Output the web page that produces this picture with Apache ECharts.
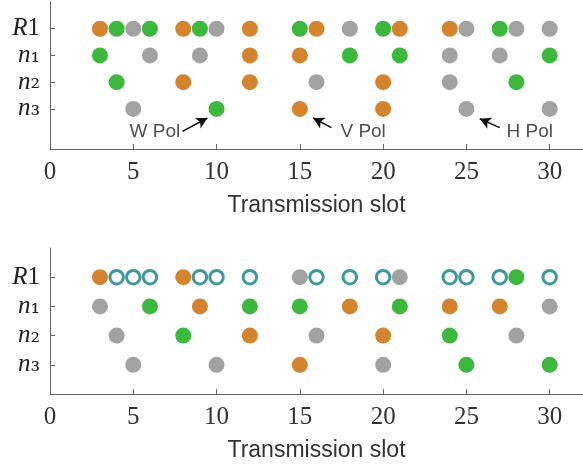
<!DOCTYPE html>
<html>
<head>
<meta charset="utf-8">
<script src="https://cdn.jsdelivr.net/npm/echarts@6/dist/echarts.min.js"></script>
<style>html,body{margin:0;padding:0;background:#fff}#c{width:583px;height:468px}</style>
</head>
<body>
<div id="c"></div>
<script>
// Row values on the y axis: R1 = 4, n1 = 3, n2 = 2, n3 = 1
const rowValues = [4, 3, 2, 1];
const rowNames = ['R1', 'n₁', 'n₂', 'n₃'];
const xTicks = [0, 5, 10, 15, 20, 25, 30];

// Top panel: slots per row (order R1, n1, n2, n3)
const topOrange = [[3, 8, 12, 16, 21, 24], [12, 15], [8, 12, 20], [15, 20]];
const topGreen  = [[4, 6, 9, 15, 20, 27], [3, 18, 21, 30], [4, 28], [10]];
const topGray   = [[5, 10, 18, 25, 28, 30], [6, 9, 24, 27], [16, 24], [5, 25, 30]];

// Bottom panel
const botOrange = [[3, 8], [9, 18, 24, 27], [12, 20], [15]];
const botGreen  = [[28], [6, 12, 15, 21], [8, 24], [25, 30]];
const botGray   = [[15, 21], [3, 30], [4, 16, 28], [5, 10, 20]];
const botHollow = [[4, 5, 6, 9, 10, 12, 16, 18, 20, 24, 25, 27, 30], [], [], []];

// Annotations (top panel, data units)
const annoTexts = ['W Pol', 'V Pol', 'H Pol'];
const annoTextPos = [[6.3, 0.14], [18.8, 0.14], [28.8, 0.14]];
const arrowFrom = [[7.95, 0.16], [16.9, 0.3], [27.0, 0.3]];
const arrowTo = [[9.45, 0.66], [15.8, 0.66], [25.8, 0.63]];

const C_OR = '#D4832F', C_GR = '#3CB83C', C_GY = '#A2A2A2', C_TL = '#0F8080';
const yTickVals = rowValues.slice().sort((a, b) => a - b);

function pts(rows) {
  const out = [];
  rows.forEach((slots, i) => slots.forEach(s => out.push([s, rowValues[i]])));
  return out;
}

function yLabel(v) {
  const idx = rowValues.indexOf(v);
  const n = rowNames[idx];
  if (n === undefined) return '';
  return '{it|' + n.charAt(0) + '}' + (n === 'R1' ? '{rm|1}' : '{sub|' + n.slice(1) + '}');
}

function xAxisCfg(gi) {
  return {
    gridIndex: gi, type: 'value', min: 0, max: 32,
    name: 'Transmission slot', nameLocation: 'middle', nameGap: 45,
    nameTextStyle: {fontFamily: 'Liberation Sans', fontSize: 23, color: '#333', lineHeight: 24, verticalAlign: 'top'},
    axisLine: {show: true, onZero: false, lineStyle: {color: '#666', width: 1}},
    axisTick: {show: true, inside: true, length: 5, customValues: xTicks, lineStyle: {color: '#666'}},
    axisLabel: {customValues: xTicks, margin: 11, fontFamily: 'Liberation Serif', fontSize: 25, color: '#333', lineHeight: 25},
    splitLine: {show: false}
  };
}

function yAxisCfg(gi, min) {
  return {
    gridIndex: gi, type: 'value', min: min, max: 5,
    axisLine: {show: true, onZero: false, lineStyle: {color: '#666', width: 1}},
    axisTick: {show: true, inside: true, length: 5, customValues: yTickVals, lineStyle: {color: '#666'}},
    axisLabel: {
      customValues: yTickVals, margin: 10, formatter: yLabel, color: '#222',
      hideOverlap: false, showMinLabel: true, showMaxLabel: true,
      rich: {
        it: {fontFamily: 'Liberation Serif', fontStyle: 'italic', fontSize: 25, color: '#222', lineHeight: 20, verticalAlign: 'middle'},
        rm: {fontFamily: 'Liberation Serif', fontSize: 25, color: '#222', lineHeight: 20, verticalAlign: 'middle'},
        sub: {fontFamily: 'DejaVu Serif', fontSize: 24, color: '#222', lineHeight: 20, verticalAlign: 'middle'}
      }
    },
    splitLine: {show: false}
  };
}

function filled(name, rows, color, gi) {
  return {name: name, type: 'scatter', xAxisIndex: gi, yAxisIndex: gi, data: pts(rows),
    symbol: 'circle', symbolSize: 16, itemStyle: {color: color, opacity: 1}, silent: true};
}

const series = [
  filled('to', topOrange, C_OR, 0),
  filled('tg', topGreen, C_GR, 0),
  filled('ty', topGray, C_GY, 0),
  filled('bo', botOrange, C_OR, 1),
  filled('bg', botGreen, C_GR, 1),
  filled('by', botGray, C_GY, 1),
  {name: 'bh', type: 'scatter', xAxisIndex: 1, yAxisIndex: 1, data: pts(botHollow),
    symbol: 'circle', symbolSize: 13.5, itemStyle: {color: '#fff', borderColor: C_TL, borderWidth: 3}, silent: true},
  {name: 'anno', type: 'scatter', xAxisIndex: 0, yAxisIndex: 0,
    data: annoTexts.map((t, i) => ({name: t, value: annoTextPos[i]})),
    symbolSize: 1, itemStyle: {color: 'rgba(0,0,0,0)'}, silent: true,
    label: {show: true, position: 'inside', formatter: p => p.name, fontFamily: 'Liberation Sans', fontSize: 19, color: '#222'},
    markLine: {
      silent: true, symbol: ['none', 'arrow'], symbolSize: [9, 11],
      lineStyle: {color: '#111', width: 1.5, type: 'solid'}, label: {show: false},
      data: arrowFrom.map((f, i) => [{coord: f}, {coord: arrowTo[i]}])
    }}
];

const chart = echarts.init(document.getElementById('c'));
chart.setOption({
  animation: false,
  backgroundColor: '#fff',
  grid: [
    {left: 50, top: 2, width: 533, height: 147},
    {left: 50, top: 248, width: 533, height: 146}
  ],
  xAxis: [xAxisCfg(0), xAxisCfg(1)],
  yAxis: [yAxisCfg(0, -0.5), yAxisCfg(1, 0)],
  series: series
});
</script>
</body>
</html>
